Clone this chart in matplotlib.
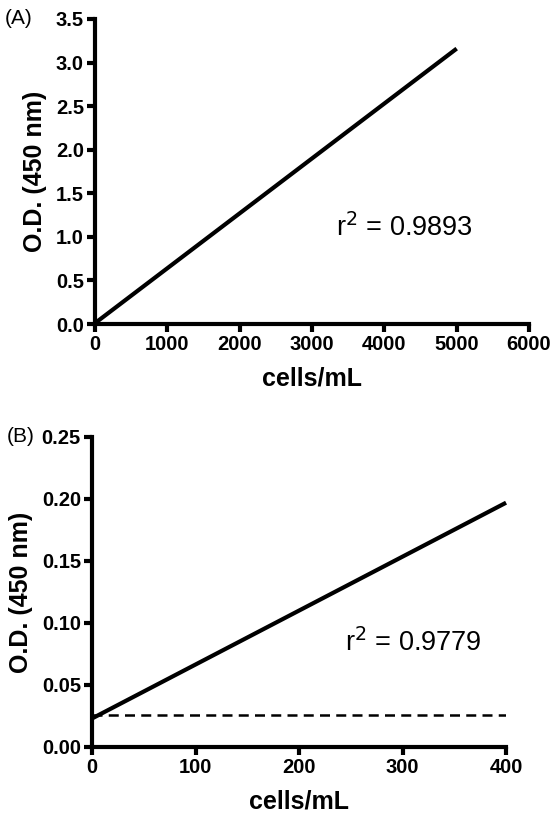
import matplotlib
matplotlib.use("Agg")
from matplotlib import pyplot as plt

plt.rcParams['font.family'] = ['Liberation Sans', 'DejaVu Sans']

# panel A: standard curve
a_cells = [0, 5000]
a_od = [0.01, 3.16]
a_r2 = "0.9893"
a_xticks = [0, 1000, 2000, 3000, 4000, 5000, 6000]
a_yticks = [0.0, 0.5, 1.0, 1.5, 2.0, 2.5, 3.0, 3.5]

# panel B: low range + blank
b_cells = [0, 400]
b_od = [0.023, 0.197]
b_blank = 0.026
b_r2 = "0.9779"
b_xticks = [0, 100, 200, 300, 400]
b_yticks = [0.00, 0.05, 0.10, 0.15, 0.20, 0.25]

fig = plt.figure(figsize=(5.55, 8.18), dpi=100)
ax1 = fig.add_axes([0.1712, 0.6039, 0.782, 0.3729])
ax2 = fig.add_axes([0.1658, 0.0868, 0.746, 0.379])


def style(ax):
    for s in ['top', 'right']:
        ax.spines[s].set_visible(False)
    for s in ['left', 'bottom']:
        ax.spines[s].set_linewidth(3)
    ax.tick_params(width=3, length=6, direction='out', labelsize=14.5, pad=2)
    for lab in ax.get_xticklabels() + ax.get_yticklabels():
        lab.set_fontweight('bold')
    ax.set_xlabel('cells/mL', fontsize=18, fontweight='bold', labelpad=9)
    ax.set_ylabel('O.D. (450 nm)', fontsize=18, fontweight='bold', labelpad=6)


ax1.plot(a_cells, a_od, color='black', lw=3, clip_on=False, solid_capstyle='butt')
ax1.set_xlim(0, 6000)
ax1.set_ylim(0, 3.5)
ax1.set_xticks(a_xticks)
ax1.set_yticks(a_yticks)
ax1.set_yticklabels(['%.1f' % v for v in a_yticks])
style(ax1)
ax1.text(3330, 1.1, r'r$^2$ = ' + a_r2, fontsize=19.5, va='center')
fig.text(0.008, 0.977, '(A)', fontsize=15, va='center')

ax2.plot(b_cells, b_od, color='black', lw=3, clip_on=False, solid_capstyle='butt')
ax2.plot(b_cells, [b_blank, b_blank], color='black', lw=1.8, ls=(0, (4, 2.5)))
ax2.set_xlim(0, 400)
ax2.set_ylim(0, 0.25)
ax2.set_xticks(b_xticks)
ax2.set_yticks(b_yticks)
ax2.set_yticklabels(['%.2f' % v for v in b_yticks])
style(ax2)
ax2.text(244, 0.084, r'r$^2$ = ' + b_r2, fontsize=19.5, va='center')
fig.text(0.012, 0.466, '(B)', fontsize=15, va='center')

plt.savefig('out.png', dpi=100)
